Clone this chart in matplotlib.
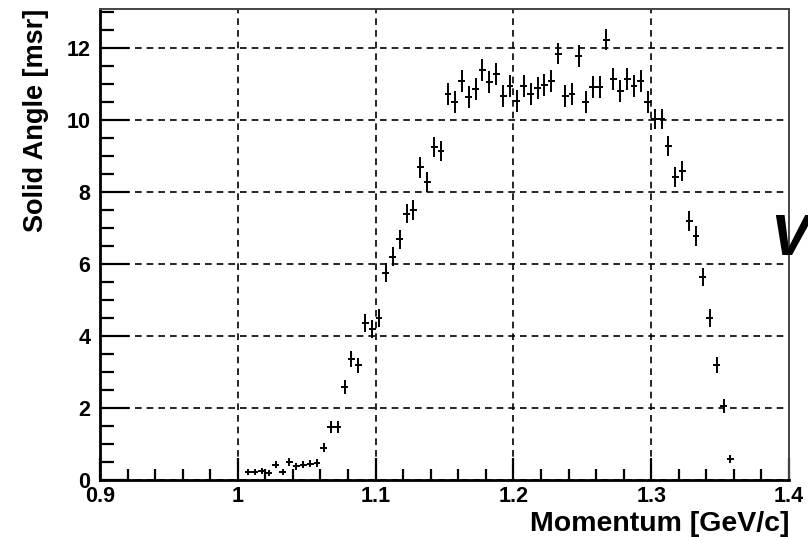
import numpy as np
import matplotlib
matplotlib.use("Agg")
import matplotlib.pyplot as plt
from matplotlib.ticker import MultipleLocator

plt.rcParams["font.family"] = ["Liberation Sans", "DejaVu Sans"]

# momentum bin centres [GeV/c]
momentum = [
    1.0075, 1.0125, 1.0175, 1.0225, 1.0275, 1.0325, 1.0375, 1.0425, 1.0475, 1.0525,
    1.0575, 1.0625, 1.0675, 1.0725, 1.0775, 1.0825, 1.0875, 1.0925, 1.0975, 1.1025,
    1.1075, 1.1125, 1.1175, 1.1225, 1.1275, 1.1325, 1.1375, 1.1425, 1.1475, 1.1525,
    1.1575, 1.1625, 1.1675, 1.1725, 1.1775, 1.1825, 1.1875, 1.1925, 1.1975, 1.2025,
    1.2075, 1.2125, 1.2175, 1.2225, 1.2275, 1.2325, 1.2375, 1.2425, 1.2475, 1.2525,
    1.2575, 1.2625, 1.2675, 1.2725, 1.2775, 1.2825, 1.2875, 1.2925, 1.2975, 1.3025,
    1.3075, 1.3125, 1.3175, 1.3225, 1.3275, 1.3325, 1.3375, 1.3425, 1.3475, 1.3525,
    1.3575,
]

# solid angle [msr]
solid_angle = [
    0.22, 0.22, 0.25, 0.20, 0.42, 0.22, 0.50, 0.38, 0.42, 0.45,
    0.47, 0.90, 1.47, 1.47, 2.58, 3.37, 3.18, 4.35, 4.20, 4.50,
    5.76, 6.20, 6.68, 7.40, 7.50, 8.68, 8.27, 9.24, 9.14, 10.72,
    10.50, 11.08, 10.64, 10.86, 11.39, 11.05, 11.28, 10.67, 10.94, 10.53,
    10.94, 10.72, 10.89, 10.97, 11.08, 11.84, 10.67, 10.72, 11.78, 10.50,
    10.92, 10.92, 12.23, 11.14, 10.81, 11.14, 10.94, 11.08, 10.50, 10.03,
    10.03, 9.28, 8.41, 8.58, 7.19, 6.77, 5.63, 4.49, 3.20, 2.06,
    0.58,
]

# statistical errors [msr]
solid_angle_err = [
    0.08, 0.08, 0.08, 0.08, 0.10, 0.08, 0.10, 0.10, 0.10, 0.10,
    0.10, 0.13, 0.17, 0.17, 0.20, 0.22, 0.22, 0.25, 0.25, 0.25,
    0.27, 0.27, 0.27, 0.27, 0.27, 0.28, 0.28, 0.28, 0.28, 0.30,
    0.30, 0.30, 0.30, 0.30, 0.30, 0.30, 0.30, 0.30, 0.30, 0.30,
    0.30, 0.30, 0.30, 0.30, 0.30, 0.30, 0.30, 0.30, 0.30, 0.30,
    0.30, 0.30, 0.30, 0.30, 0.30, 0.30, 0.30, 0.30, 0.30, 0.28,
    0.28, 0.28, 0.28, 0.28, 0.27, 0.27, 0.25, 0.25, 0.22, 0.20,
    0.12,
]

bin_half = 0.0025

fig = plt.figure(figsize=(8.08, 5.37), dpi=100)
ax = fig.add_axes([100 / 808, 57 / 537, 689 / 808, 471 / 537])

ax.errorbar(momentum, solid_angle, yerr=solid_angle_err, xerr=bin_half,
            fmt="none", ecolor="black", elinewidth=1.4, capsize=0)

ax.set_xlim(0.9, 1.4)
ax.set_ylim(0, 13.08)

ax.xaxis.set_major_locator(MultipleLocator(0.1))
ax.xaxis.set_minor_locator(MultipleLocator(0.02))
ax.yaxis.set_major_locator(MultipleLocator(2))
ax.yaxis.set_minor_locator(MultipleLocator(0.5))
ax.xaxis.set_major_formatter(plt.FuncFormatter(lambda v, p: f"{v:g}"))

ax.tick_params(axis="both", which="both", direction="in",
               top=False, right=False, width=1.6, color="black")
ax.tick_params(axis="x", which="major", length=16, pad=4)
ax.tick_params(axis="x", which="minor", length=8)
ax.tick_params(axis="y", which="major", length=21, pad=7)
ax.tick_params(axis="y", which="minor", length=10)

for lab in ax.get_xticklabels() + ax.get_yticklabels():
    lab.set_fontsize(15.5)
    lab.set_fontweight("bold")

ax.grid(True, which="major", color="black", linestyle=(0, (4, 3)), linewidth=1.2)
ax.set_axisbelow(True)

for side in ["left", "bottom"]:
    ax.spines[side].set_linewidth(2.0)
for side in ["top", "right"]:
    ax.spines[side].set_linewidth(1.4)
    ax.spines[side].set_color("#444444")

ax.set_xlabel("Momentum [GeV/c]", fontsize=20.5, fontweight="bold", loc="right")
ax.xaxis.set_label_coords(1.0, -0.066)
ax.set_ylabel("Solid Angle [msr]", fontsize=19.5, fontweight="bold", loc="top")
ax.yaxis.set_label_coords(-0.074, 1.0)

fig.text(770 / 808, 1 - 255 / 537, "V", fontsize=42, fontweight="bold",
         fontstyle="italic", ha="left", va="baseline")

fig.savefig("out.png", dpi=100)
